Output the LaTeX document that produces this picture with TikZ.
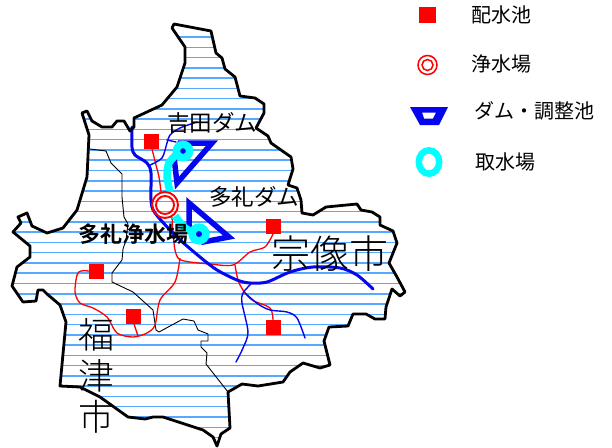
\documentclass[tikz,border=0pt]{standalone}
\usepackage{fontspec}
\setmainfont{Noto Sans CJK JP Light}[BoldFont={Noto Sans CJK JP Bold}]
\newfontfamily\regfont{Noto Sans CJK JP}
\newcommand{\outlinepath}{(174,24) -- (211,31) -- (216,53) -- (222,58) -- (225,69) -- (235,77) -- (240,96) -- (255,98) -- (264,104) -- (264,113) -- (256,128) -- (268,136) -- (271,143) -- (291,157) -- (293,169) -- (288,185) -- (297,188) -- (301,200) -- (302,213) -- (313,215) -- (326,207) -- (357,204) -- (361,210) -- (372,212) -- (380,217) -- (380,225) -- (393,231) -- (397,243) -- (389,263) -- (397,277) -- (405,292) -- (400,296) -- (392,289) -- (386,307) -- (385,319) -- (375,319) -- (366,314) -- (353,314) -- (348,326) -- (329,327) -- (324,341) -- (330,365) -- (320,368) -- (303,363) -- (290,372) -- (283,382) -- (258,386) -- (242,384) -- (228,392) -- (230,428) -- (221,434) -- (217,446) -- (213,437) -- (203,430) -- (163,417) -- (153,417) -- (145,419) -- (128,417) -- (100,397) -- (80,387) -- (60,386) -- (66,322) -- (60,305) -- (47,294) -- (43,290) -- (38,290) -- (36,301) -- (23,302) -- (12,286) -- (17,267) -- (30,257) -- (30,246) -- (13,232) -- (21,223) -- (18,217) -- (27,213) -- (32,226) -- (47,233) -- (63,228) -- (77,210) -- (87,177) -- (89,135) -- (82,113) -- (87,111) -- (92,121) -- (102,127) -- (112,127) -- (117,121) -- (124,121) -- (130,131) -- (134,127) -- (134,118) -- (162,105) -- (177,87) -- (185,63) -- (185,47) -- (172,28) -- cycle}
\definecolor{hatchblue}{HTML}{55AAFF}
\definecolor{riverblue}{HTML}{0505EE}
\definecolor{intakecyan}{HTML}{00FFFF}
\tikzset{
  border/.style={draw=black,line width=2.8pt,line join=round},
  inner line/.style={draw=black,line width=0.9pt,line join=round},
  hatch/.style={draw=hatchblue,line width=1.5pt},
  river/.style={draw=riverblue,line width=3pt,line cap=round},
  brook/.style={draw=riverblue,line width=1.4pt,line cap=round},
  pipe/.style={draw=red,line width=1.3pt},
  reservoir/.style={fill=red,draw=none,minimum size=15pt,inner sep=0pt,outer sep=0pt},
  dam/.style={draw=riverblue,line width=5.5pt,line join=miter,fill=none},
  intake/.style={draw=intakecyan,line width=7.5pt,fill=none},
  plant/.style={draw=red,line width=1.9pt,fill=none},
  label/.style={inner sep=0pt,outer sep=0pt,text=black},
}
\begin{document}
\begin{tikzpicture}[x=1pt,y=-1pt]
\useasboundingbox (0,0) rectangle (612,447);
\fill[white] (0,0) rectangle (612,447);
% hatching
\begin{scope}
\clip \outlinepath;
\foreach \k in {0,...,39} {\draw[hatch] (0,{37+10.27*\k}) -- (420,{37+10.27*\k});}
\end{scope}
% inner boundary
\draw[inner line] (90,149) -- (106,151) -- (111,163) -- (122,174) -- (122,197) -- (124,217) -- (128,224) -- (126,240) -- (123,249) -- (122,260) -- (112,273) -- (112,282) -- (133,292) -- (153,310) -- (156,330) -- (159,332) -- (183,319) -- (194,321) -- (198,330) -- (208,334) -- (208,341) -- (201,341) -- (201,347) -- (207,353) -- (206,364) -- (228,392);
% red pipes
\draw[pipe] plot[smooth] coordinates {(152,149) (156,165) (159,177) (161,192)};
\draw[pipe] plot[smooth] coordinates {(172,217) (173,233) (175,250) (179,259) (190,262) (210,264) (233,265) (250,252) (265,247) (273,234)};
\draw[pipe] plot[smooth] coordinates {(180,258) (175,282) (160,300) (155,325) (147,333) (133,337) (117,333) (107,317) (93,308) (80,303) (75,292) (77,275) (81,271) (89,271)};
\draw[pipe] (134,324) -- (138,336);
\draw[pipe] plot[smooth] coordinates {(235,265) (238,280) (243,290) (252,300) (270,308) (273,320)};
% rivers
\draw[river] plot[smooth] coordinates {(132,127) (132,147) (135,155) (147,163) (151,173) (151,200) (155,213) (177,237) (200,257) (217,270) (237,280) (250,283) (267,282) (290,272) (313,267) (340,268) (357,275) (373,289)};
\draw[brook] plot[smooth] coordinates {(197,122) (180,128) (170,135) (167,143) (162,158) (150,165)};
\draw[brook] (167,140) -- (176,142);
\draw[brook] plot[smooth] coordinates {(251,284) (243,293) (242,303) (248,332) (243,348) (236,362)};
\draw[brook] plot[smooth] coordinates {(245,293) (258,304) (270,310) (287,312) (297,318) (305,338)};
% dams
\draw[dam] (180,143) -- (212,143) -- (177,183) -- (174,157) -- cycle;
\draw[dam] (189,203) -- (229,237) -- (203,242) -- (189,226) -- cycle;
% intake
\draw[intake,line cap=butt] plot[smooth] coordinates {(177,154) (169,163) (167,176) (170,192)};
\draw[intake,line cap=butt] plot[smooth] coordinates {(175,216) (184,227) (192,232)};
\fill[riverblue] (183,151) circle (3.8);
\fill[riverblue] (199,234) circle (3.8);
\draw[intake] (183,151) circle (6.6);
\draw[intake] (199,234) circle (6.8);
% treatment plant
\draw[plant] (165,205) circle (13);
\draw[plant] (165,205) circle (9);
% reservoirs
\node[reservoir] (r1) at (151.5,141.5) {};
\node[reservoir] (r2) at (273,226) {};
\node[reservoir] (r3) at (96.5,271) {};
\node[reservoir] (r4) at (133.5,316.5) {};
\node[reservoir] (r5) at (273,327.5) {};
% border
\draw[border] \outlinepath;
% map labels
\node[label,font=\regfont\fontsize{22.5}{22.5}\selectfont] (yoshida) at (212,123) {吉田ダム};
\node[label,font=\regfont\fontsize{22.5}{22.5}\selectfont] (tarei) at (254,197) {多礼ダム};
\node[label,font=\fontsize{22}{22}\bfseries\selectfont] (plantname) at (133,234) {多礼浄水場};
\node[label,font=\fontsize{39}{39}\selectfont] (munakata) at (330,254) {宗像市};
\node[label,font=\fontsize{36}{41}\selectfont,align=center] (fukutsu) at (96,376) {福\\津\\市};
% legend
\node[reservoir,minimum width=17pt,minimum height=16pt] (lr) at (427.5,15) {};
\draw[plant,line width=1.5pt] (427.5,65) circle (9.5);
\draw[plant,line width=1.5pt] (427.5,65) circle (5.5);
\fill[riverblue,even odd rule] (410,107) -- (448,107) -- (439,125) -- (420,125) -- cycle (422,112.5) -- (436,112.5) -- (433,118.5) -- (424,118.5) -- cycle;
\draw[draw=intakecyan,line width=6.5pt] (429,162) ellipse (10.2 and 11.7);
\node[label,font=\regfont\fontsize{20}{20}\selectfont] (t1) at (501,15) {配水池};
\node[label,font=\regfont\fontsize{20}{20}\selectfont] (t2) at (501,64) {浄水場};
\node[label,font=\regfont\fontsize{20}{20}\selectfont] (t3) at (534.5,111) {ダム・調整池};
\node[label,font=\regfont\fontsize{20}{20}\selectfont] (t4) at (505,162) {取水場};
\end{tikzpicture}
\end{document}
